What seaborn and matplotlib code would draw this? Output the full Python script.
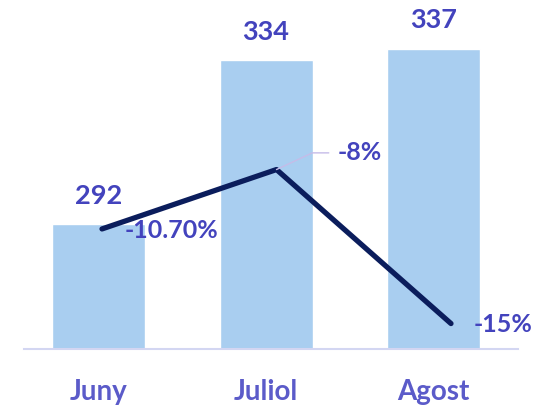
import matplotlib
matplotlib.use("Agg")
import matplotlib.pyplot as plt
import seaborn as sns
import pandas as pd

months = ["Juny", "Juliol", "Agost"]
totals = [292, 334, 337]
changes = [-10.70, -8, -15]
change_labels = ["-10.70%", "-8%", "-15%"]

sns.set_theme(style="white")
plt.rcParams["font.family"] = ["Lato", "DejaVu Sans"]

BAR = "#a9cef0"
TXT = "#4343bd"
TICK = "#5b5bc9"
LINE = "#0b1d5c"
BASE = "#d3d6f2"

fig = plt.figure(figsize=(5.43, 4.08), dpi=100)
pos = [24 / 543, 59 / 408, 494 / 543, 349 / 408]
ax = fig.add_axes(pos)

df = pd.DataFrame({"month": months, "total": totals})
sns.barplot(data=df, x="month", y="total", color=BAR, width=0.555,
            saturation=1, ax=ax)
ax.set_xlim(-0.445, 2.504)
ax.set_ylim(260, 349.5)
for s in ["top", "right", "left"]:
    ax.spines[s].set_visible(False)
ax.spines["bottom"].set_color(BASE)
ax.spines["bottom"].set_linewidth(1.5)
ax.set_yticks([])
ax.set_xlabel("")
ax.set_ylabel("")
ax.tick_params(axis="x", length=0, pad=21.5, labelsize=20, labelcolor=TICK)
for lab in ax.get_xticklabels():
    lab.set_fontweight("bold")
for i, v in enumerate(totals):
    ax.annotate(str(v), (i, v), xytext=(0, 12), textcoords="offset points",
                ha="center", va="bottom", fontsize=19.5, fontweight="bold",
                color=TXT)

ax2 = fig.add_axes(pos, facecolor="none")
ldf = pd.DataFrame({"x": [0, 1, 2], "chg": changes})
sns.lineplot(data=ldf, x="x", y="chg", color=LINE, linewidth=3.8, ax=ax2,
             solid_capstyle="round")
ax2.set_xlim(-0.447, 2.384)
ax2.set_ylim(-16.157, -0.294)
ax2.axis("off")
for i, (v, t) in enumerate(zip(changes, change_labels)):
    if i == 1:
        ax2.annotate(t, (i, v), xytext=(44, 12), textcoords="offset points",
                     ha="left", va="center", fontsize=18, fontweight="bold",
                     color=TXT,
                     arrowprops=dict(arrowstyle="-", color="#c5bce8", lw=1,
                                     connectionstyle="angle,angleA=0,angleB=25,rad=0",
                                     shrinkA=4, shrinkB=0))
    else:
        ax2.annotate(t, (i, v), xytext=(16, -1), textcoords="offset points",
                     ha="left", va="center", fontsize=18, fontweight="bold",
                     color=TXT)

fig.savefig("out.png", dpi=100)
